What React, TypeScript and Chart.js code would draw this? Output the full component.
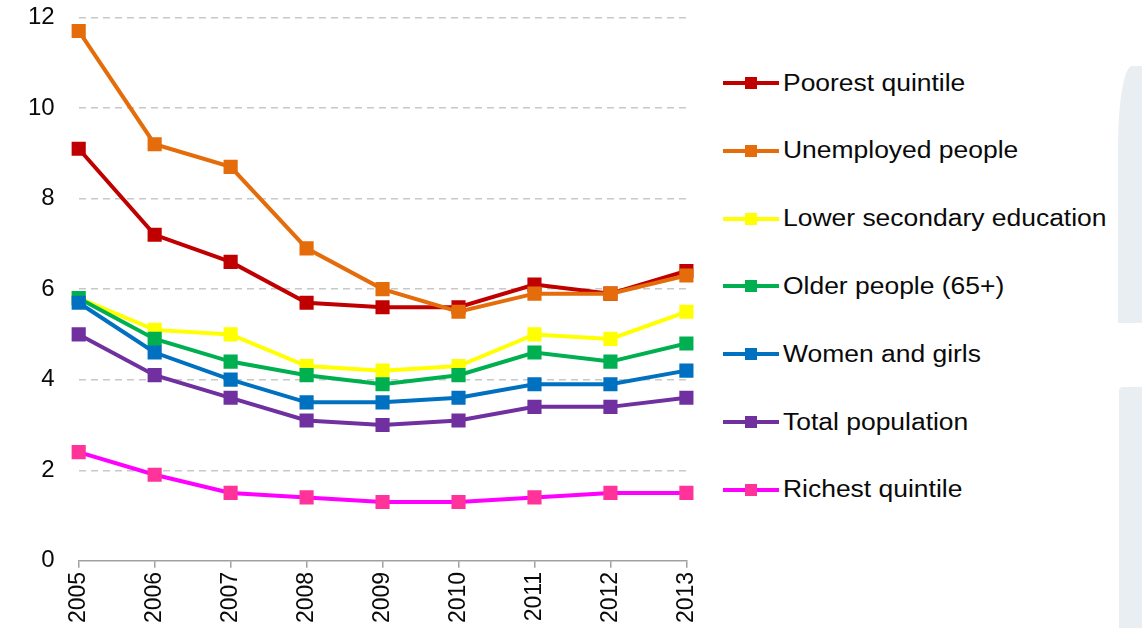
import React, { useEffect, useRef } from "react";
import { Chart, registerables } from "chart.js";

Chart.register(...registerables);

const years = ["2005", "2006", "2007", "2008", "2009", "2010", "2011", "2012", "2013"];

const poorest = [9.1, 7.2, 6.6, 5.7, 5.6, 5.6, 6.1, 5.9, 6.4];
const unemployed = [11.7, 9.2, 8.7, 6.9, 6.0, 5.5, 5.9, 5.9, 6.3];
const lowerSecondary = [5.8, 5.1, 5.0, 4.3, 4.2, 4.3, 5.0, 4.9, 5.5];
const olderPeople = [5.8, 4.9, 4.4, 4.1, 3.9, 4.1, 4.6, 4.4, 4.8];
const womenGirls = [5.7, 4.6, 4.0, 3.5, 3.5, 3.6, 3.9, 3.9, 4.2];
const totalPopulation = [5.0, 4.1, 3.6, 3.1, 3.0, 3.1, 3.4, 3.4, 3.6];
const richest = [2.4, 1.9, 1.5, 1.4, 1.3, 1.3, 1.4, 1.5, 1.5];

const seriesNames = [
  "Poorest quintile",
  "Unemployed people",
  "Lower secondary education",
  "Older people (65+)",
  "Women and girls",
  "Total population",
  "Richest quintile",
];
const seriesData = [poorest, unemployed, lowerSecondary, olderPeople, womenGirls, totalPopulation, richest];
const lineColors = ["#c00000", "#e46c0a", "#ffff00", "#00b050", "#0070c0", "#7030a0", "#ff00ff"];
const markerColors = ["#c00000", "#e46c0a", "#ffff00", "#00b050", "#0070c0", "#7030a0", "#ff3399"];

const FONT = "'Liberation Sans', Arial, sans-serif";

export default function App() {
  const ref = useRef<HTMLCanvasElement | null>(null);

  useEffect(() => {
    document.body.style.margin = "0";
    if (!ref.current) return;
    const chart = new Chart(ref.current, {
      type: "line",
      data: {
        labels: years,
        datasets: seriesNames.map((name, i) => ({
          label: name,
          data: seriesData[i],
          borderColor: lineColors[i],
          backgroundColor: markerColors[i],
          pointBackgroundColor: markerColors[i],
          pointBorderColor: markerColors[i],
          pointStyle: "rect",
          pointRadius: 10,
          pointBorderWidth: 0,
          borderWidth: 4,
          tension: 0,
          order: seriesNames.length - i,
        })),
      },
      options: {
        responsive: false,
        animation: false,
        maintainAspectRatio: false,
        layout: { padding: { left: 4, right: 10, top: 2, bottom: 4 } },
        plugins: { legend: { display: false }, tooltip: { enabled: false } },
        scales: {
          x: {
            type: "category",
            offset: false,
            grid: {
              display: true,
              drawOnChartArea: false,
              drawTicks: true,
              tickLength: 7,
              color: "#a0a0a0",
              lineWidth: 1.5,
            },
            border: { display: true, color: "#a0a0a0", width: 1.5 },
            ticks: {
              minRotation: 90,
              maxRotation: 90,
              padding: 4,
              color: "#0a0a0a",
              font: { family: FONT, size: 23 },
            },
          },
          y: {
            min: 0,
            max: 12,
            ticks: {
              stepSize: 2,
              padding: 24,
              color: "#0a0a0a",
              font: { family: FONT, size: 24 },
            },
            grid: {
              drawTicks: false,
              color: (ctx: any) => (ctx.tick && ctx.tick.value === 0 ? "rgba(0,0,0,0)" : "#c8c8c8"),
              lineWidth: 1.5,
            },
            border: { display: false, dash: [7, 5] },
          },
        },
      },
    });
    return () => chart.destroy();
  }, []);

  const legendTop = 83;
  const legendStep = 67.8;

  return (
    <div style={{ position: "relative", width: 1142, height: 628, background: "#ffffff", overflow: "hidden" }}>
      <canvas ref={ref} width={718} height={652} style={{ position: "absolute", left: 0, top: -21 }} />
      <div
        style={{
          position: "absolute",
          left: 1118,
          top: 66,
          width: 30,
          height: 257,
          background: "#e9eef3",
          borderTopLeftRadius: "14px 80px",
        }}
      />
      <div
        style={{
          position: "absolute",
          left: 1119,
          top: 387,
          width: 30,
          height: 260,
          background: "#e9eef3",
          borderTopLeftRadius: 4,
        }}
      />
      {seriesNames.map((name, i) => (
        <div
          key={name}
          style={{
            position: "absolute",
            left: 723,
            top: legendTop + i * legendStep - 15,
            height: 30,
            display: "flex",
            alignItems: "center",
          }}
        >
          <div style={{ position: "relative", width: 56, height: 30 }}>
            <div
              style={{
                position: "absolute",
                left: 0,
                top: 13,
                width: 56,
                height: 4,
                background: lineColors[i],
              }}
            />
            <div
              style={{
                position: "absolute",
                left: 22,
                top: 9,
                width: 12,
                height: 12,
                background: markerColors[i],
              }}
            />
          </div>
          <span
            style={{
              marginLeft: 4,
              fontFamily: FONT,
              fontSize: 23,
              color: "#0a0a0a",
              whiteSpace: "nowrap",
              display: "inline-block",
              transform: "scaleX(1.15)",
              transformOrigin: "left center",
            }}
          >
            {name}
          </span>
        </div>
      ))}
    </div>
  );
}
